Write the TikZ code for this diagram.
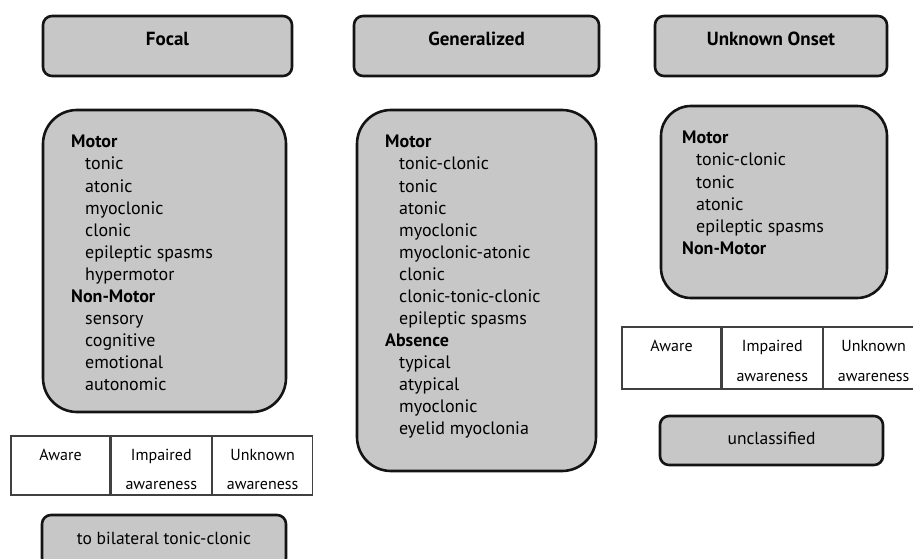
\documentclass[tikz,border=0pt]{standalone}
\usepackage{fontspec}
\setmainfont{PT Sans}
\usetikzlibrary{positioning}

\tikzset{
  headbox/.style={draw=black!92, line width=2.6pt, fill=black!22, rounded corners=9pt,
    minimum height=60pt, text height=11pt, text depth=11pt,
    font=\fontsize{19}{22}\selectfont\bfseries},
  listbox/.style={draw=black!92, line width=2.6pt, fill=black!22, rounded corners=34pt},
  endbox/.style={draw=black!92, line width=2.6pt, fill=black!22, rounded corners=9pt,
    text height=11pt, text depth=4pt, font=\fontsize{17.5}{20}\selectfont},
  group/.style={anchor=base west, inner sep=0pt, font=\fontsize{18}{22}\selectfont\bfseries},
  item/.style={anchor=base west, inner sep=0pt, font=\fontsize{18}{22}\selectfont},
  cell/.style={draw=black!75, line width=1.3pt, fill=white, inner sep=0pt},
  celltxt/.style={anchor=base, inner sep=0pt, font=\fontsize{16}{19}\selectfont},
}

\begin{document}
\begin{tikzpicture}[x=1pt,y=-1pt]
  \useasboundingbox (0,0) rectangle (913,559);

  % onset
  \node[headbox, minimum width=249pt] (focal) at (167.5,46) {Focal};
  \node[headbox, minimum width=245pt] (general) at (476.5,46) {Generalized};
  \node[headbox, minimum width=232pt] (unknown) at (771,46) {Unknown Onset};

  % lists
  \node[listbox, minimum width=243pt, minimum height=302pt] (focallist) at (164.5,261) {};
  \node[listbox, minimum width=239pt, minimum height=361pt] (genlist) at (476.5,290.5) {};
  \node[listbox, minimum width=226pt, minimum height=192pt, rounded corners=30pt] (unklist) at (774,202) {};

  % focal
  \node[group] (fmotor) at (71,148) {Motor};
  \foreach \t [count=\i] in {tonic,atonic,myoclonic,clonic,epileptic spasms,hypermotor}
    \node[item] (fm-\i) at (85,{148+22*\i}) {\t};
  \node[group] (fnonmotor) at (71,302) {Non-Motor};
  \foreach \t [count=\i] in {sensory,cognitive,emotional,autonomic}
    \node[item] (fn-\i) at (85,{302+22*\i}) {\t};

  % generalized
  \node[group] (gmotor) at (385,148) {Motor};
  \foreach \t [count=\i] in {tonic-clonic,tonic,atonic,myoclonic,myoclonic-atonic,clonic,clonic-tonic-clonic,epileptic spasms}
    \node[item] (gm-\i) at (399,{148+22*\i}) {\t};
  \node[group] (gabsence) at (385,346) {Absence};
  \foreach \t [count=\i] in {typical,atypical,myoclonic,eyelid myoclonia}
    \node[item] (ga-\i) at (399,{346+22*\i}) {\t};

  % unknown onset
  \node[group] (umotor) at (682,144) {Motor};
  \foreach \t [count=\i] in {tonic-clonic,tonic,atonic,epileptic spasms}
    \node[item] (um-\i) at (696,{144+22*\i}) {\t};
  \node[group] (unonmotor) at (682,254) {Non-Motor};

  % awareness, focal
  \node[cell, minimum width=99pt, minimum height=59pt] (fa1) at (60.5,465.5) {};
  \node[cell, minimum width=100pt, minimum height=59pt, right=0pt of fa1] (fa2) {};
  \node[cell, minimum width=100pt, minimum height=59pt, right=0pt of fa2] (fa3) {};
  \node[celltxt] at ([yshift=-25pt]fa1.north) {Aware};
  \node[celltxt] at ([yshift=-25pt]fa2.north) {Impaired};
  \node[celltxt] at ([yshift=-54pt]fa2.north) {awareness};
  \node[celltxt] at ([yshift=-25pt]fa3.north) {Unknown};
  \node[celltxt] at ([yshift=-54pt]fa3.north) {awareness};

  % awareness, unknown onset
  \node[cell, minimum width=99pt, minimum height=62pt] (ua1) at (671.5,358) {};
  \node[cell, minimum width=100pt, minimum height=62pt, right=0pt of ua1] (ua2) {};
  \node[cell, minimum width=100pt, minimum height=62pt, right=0pt of ua2] (ua3) {};
  \node[celltxt] at ([yshift=-25pt]ua1.north) {Aware};
  \node[celltxt] at ([yshift=-25pt]ua2.north) {Impaired};
  \node[celltxt] at ([yshift=-55pt]ua2.north) {awareness};
  \node[celltxt] at ([yshift=-25pt]ua3.north) {Unknown};
  \node[celltxt] at ([yshift=-55pt]ua3.north) {awareness};

  \node[endbox, minimum width=223pt, minimum height=49pt] (unclass) at (771.5,440.5) {unclassified};
  \node[endbox, minimum width=244pt, minimum height=52pt] (bilat) at (164,541) {to bilateral tonic-clonic};
\end{tikzpicture}
\end{document}
